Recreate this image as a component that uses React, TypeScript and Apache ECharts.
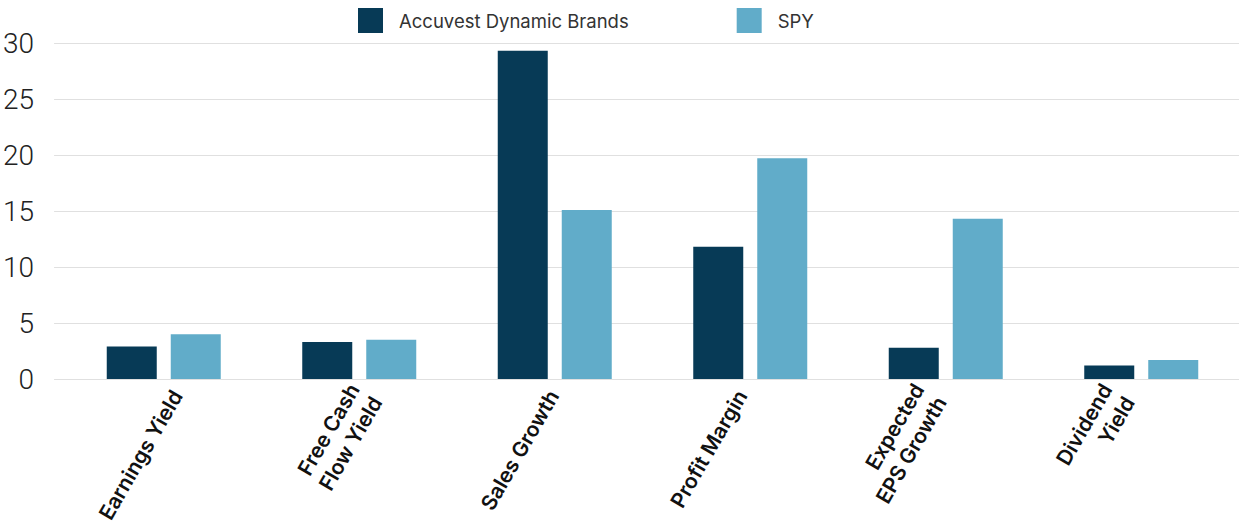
import React, { useEffect, useRef } from "react";
import * as echarts from "echarts";

const categories = [
  "Earnings Yield",
  "Free Cash\nFlow Yield",
  "Sales Growth",
  "Profit Margin",
  "Expected\nEPS Growth",
  "Dividend\nYield",
];
const accuvestValues = [2.9, 3.3, 29.3, 11.8, 2.8, 1.2];
const spyValues = [4.0, 3.5, 15.1, 19.7, 14.3, 1.7];
const seriesNames = ["Accuvest Dynamic Brands", "SPY"];
const yTicks = { min: 0, max: 30, interval: 5 };

export default function App() {
  const ref = useRef<HTMLDivElement>(null);
  useEffect(() => {
    document.body.style.margin = "0";
    const chart = echarts.init(ref.current!, null, { renderer: "svg" });
    chart.setOption({
      animation: false,
      legend: {
        left: 353,
        top: 3,
        itemWidth: 25,
        itemHeight: 25,
        itemGap: 108,
        icon: "rect",
        textStyle: { fontFamily: "Inter", fontSize: 18.5, color: "#333", padding: [0, 0, 0, 11] },
        data: seriesNames,
      },
      grid: [
        { left: 52, right: 0, top: 43, bottom: 148 },
        { left: 66, width: 1176, top: 43, bottom: 148 },
        { left: 83, width: 1129, top: 43, bottom: 148 },
      ],
      xAxis: [
        { type: "category", gridIndex: 0, data: categories, show: false },
        { type: "category", gridIndex: 1, data: categories, show: false },
        {
          type: "category",
          gridIndex: 2,
          data: categories,
          axisLine: { show: false },
          axisTick: { show: false },
          axisLabel: {
            rotate: 60,
            margin: 17,
            interval: 0,
            fontFamily: "Inter",
            fontWeight: 600,
            fontSize: 21,
            lineHeight: 26,
            color: "#111",
          },
        },
      ],
      yAxis: [
        {
          type: "value",
          gridIndex: 0,
          ...yTicks,
          axisLine: { show: false },
          axisTick: { show: false },
          splitLine: { lineStyle: { color: "#e0e0e0", width: 1 } },
          axisLabel: {
            margin: 20,
            fontFamily: "Roboto",
            fontWeight: 300,
            fontSize: 28,
            color: "#222",
          },
        },
        { type: "value", gridIndex: 1, ...yTicks, show: false, splitLine: { show: false } },
        { type: "value", gridIndex: 2, ...yTicks, show: false, splitLine: { show: false } },
      ],
      series: [
        {
          name: seriesNames[0],
          type: "bar",
          xAxisIndex: 1,
          yAxisIndex: 1,
          data: accuvestValues,
          barWidth: 50,
          barGap: "28%",
          itemStyle: { color: "#073A56" },
        },
        {
          name: seriesNames[1],
          type: "bar",
          xAxisIndex: 1,
          yAxisIndex: 1,
          data: spyValues,
          barWidth: 50,
          barGap: "28%",
          itemStyle: { color: "#61ACC9" },
        },
      ],
    });
    return () => chart.dispose();
  }, []);
  return <div ref={ref} style={{ width: 1239, height: 527 }} />;
}
